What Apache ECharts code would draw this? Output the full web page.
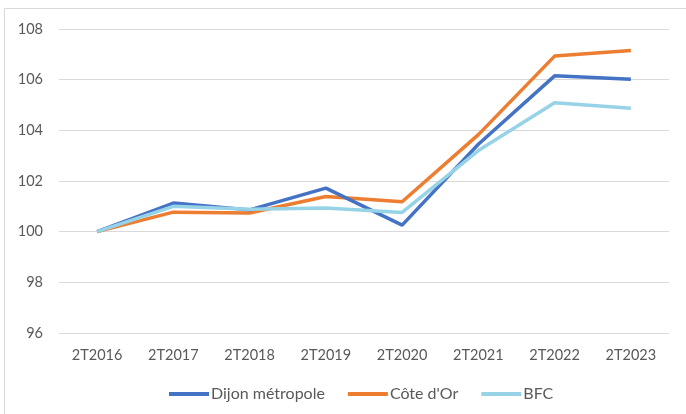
<!DOCTYPE html>
<html>
<head>
<meta charset="utf-8">
<script src="https://cdn.jsdelivr.net/npm/echarts@6/dist/echarts.min.js"></script>
<style>
  html, body { margin: 0; padding: 0; background: #fff; }
  .wrapper { position: relative; width: 686px; height: 414px; overflow: hidden; }
  .frame { position: absolute; left: 4px; top: 8px; width: 700px; height: 420px; border: 1px solid #d9d9d9; }
  .chart { position: absolute; left: 0; top: 0; width: 686px; height: 414px; }
</style>
</head>
<body>
<div class="wrapper">
  <div class="frame"></div>
  <div class="chart" id="chart"></div>
</div>
<script>
const categories = ['2T2016', '2T2017', '2T2018', '2T2019', '2T2020', '2T2021', '2T2022', '2T2023']
const dijon = [100, 101.13, 100.86, 101.72, 100.26, 103.45, 106.15, 106.02]
const coteDOr = [100, 100.77, 100.74, 101.39, 101.18, 103.83, 106.93, 107.15]
const bfc = [100, 101.0, 100.88, 100.93, 100.76, 103.2, 105.09, 104.87]
const yTicks = {min: 96, max: 108, interval: 2}

const labelStyle = {color: '#595959', fontSize: 14.5, fontFamily: 'Lato'}

const myChart = echarts.init(document.getElementById('chart'))
myChart.setOption({
  animation: false,
  color: ['#4472c4', '#ed7d31', '#97d3e7'],
  grid: {left: 59, right: 17, top: 29, bottom: 81, containLabel: false},
  legend: {
    top: 381,
    left: 164,
    itemWidth: 40,
    itemHeight: 4,
    itemGap: 23,
    icon: 'rect',
    textStyle: {...labelStyle, fontSize: 16, padding: [0, 0, 0, -3]}
  },
  xAxis: {
    type: 'category',
    data: categories,
    boundaryGap: true,
    axisLine: {show: false},
    axisTick: {show: false},
    axisLabel: {...labelStyle, margin: 15}
  },
  yAxis: {
    type: 'value',
    min: yTicks.min,
    max: yTicks.max,
    interval: yTicks.interval,
    axisLine: {show: false},
    axisTick: {show: false},
    axisLabel: {...labelStyle, margin: 16},
    splitLine: {lineStyle: {color: '#d9d9d9', width: 1}}
  },
  series: [
    {name: 'Dijon métropole', type: 'line', data: dijon, symbol: 'none', lineStyle: {width: 3.5}, z: 3},
    {name: "Côte d'Or", type: 'line', data: coteDOr, symbol: 'none', lineStyle: {width: 3.5}, z: 2},
    {name: 'BFC', type: 'line', data: bfc, symbol: 'none', lineStyle: {width: 3.5}, z: 4}
  ]
})
</script>
</body>
</html>
